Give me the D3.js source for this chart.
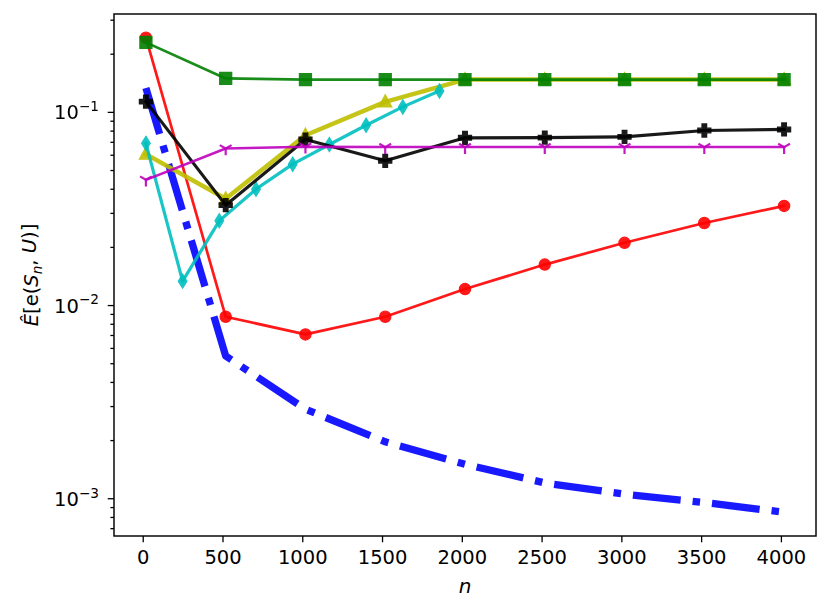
<!DOCTYPE html>
<html>
<head>
<meta charset="utf-8">
<script src="https://cdn.jsdelivr.net/npm/d3@7"></script>
<style>
  body { margin: 0; background: #fff; }
  text { font-family: "DejaVu Sans", sans-serif; }
</style>
</head>
<body>
<div id="chart"></div>
<script>
// sample sizes
const nGrid = [20, 520, 1020, 1520, 2020, 2520, 3020, 3520, 4020];
const nFine = [20, 250, 480, 710, 940, 1170, 1400, 1630, 1860];

// estimated errors
const blueVals = [0.133, 0.00545, 0.00289, 0.00196, 0.0015, 0.0012, 0.00105, 0.00095, 0.000846];
const redVals = [0.242, 0.0087, 0.00705, 0.0087, 0.0121, 0.0162, 0.021, 0.0266, 0.0326];
const yellowVals = [0.0604, 0.0355, 0.0757, 0.1126, 0.147, 0.147, 0.147, 0.147, 0.147];
const greenVals = [0.229, 0.149, 0.147, 0.147, 0.147, 0.147, 0.147, 0.147, 0.147];
const cyanVals = [0.0687, 0.0133, 0.0273, 0.0398, 0.0536, 0.0678, 0.0853, 0.1061, 0.1284];
const blackVals = [0.113, 0.0329, 0.0719, 0.0558, 0.0734, 0.0736, 0.0742, 0.0801, 0.0811];
const magentaVals = [0.0445, 0.0646, 0.066, 0.0657, 0.0657, 0.0657, 0.0657, 0.0657, 0.0657];

const xTicks = [0, 500, 1000, 1500, 2000, 2500, 3000, 3500, 4000];
const yMajor = [1e-3, 1e-2, 1e-1];
const yExp = ["\u22123", "\u22122", "\u22121"];

const series = [
  { x: nGrid, y: blueVals, color: "#0000ff", lw: 7.3, dash: "48,12,7.5,12", marker: null },
  { x: nGrid, y: redVals, color: "#ff0000", lw: 2.7, marker: "circle" },
  { x: nGrid, y: yellowVals, color: "#bfbf00", lw: 4.5, marker: "triangle" },
  { x: nGrid, y: greenVals, color: "#008000", lw: 2.7, marker: "square" },
  { x: nFine, y: cyanVals, color: "#00bfbf", lw: 3.2, marker: "diamond" },
  { x: nGrid, y: blackVals, color: "#000000", lw: 3.2, marker: "plus" },
  { x: nGrid, y: magentaVals, color: "#bf00bf", lw: 2.5, marker: "tri" }
];

const W = 830, H = 614;
const margin = { top: 14, right: 14, bottom: 78, left: 114 };
const width = W - margin.left - margin.right;
const height = H - margin.top - margin.bottom;
const fs = 19.5;

const svg = d3.select("#chart")
  .append("svg")
  .attr("width", W)
  .attr("height", H);

const g = svg.append("g")
  .attr("transform", `translate(${margin.left}, ${margin.top})`);

// matplotlib-like 5% margins
const allX = series.flatMap(s => s.x);
const allY = series.flatMap(s => s.y);
const xMin = d3.min(allX), xMax = d3.max(allX);
const xPad = (xMax - xMin) * 0.05;
const lyMin = Math.log10(d3.min(allY)), lyMax = Math.log10(d3.max(allY));
const lyPad = (lyMax - lyMin) * 0.05;

const xScale = d3.scaleLinear()
  .domain([xMin - xPad, xMax + xPad])
  .range([0, width]);

const yScale = d3.scaleLog()
  .domain([Math.pow(10, lyMin - lyPad), Math.pow(10, lyMax + lyPad)])
  .range([height, 0]);

g.append("clipPath").attr("id", "clip")
  .append("rect").attr("width", width).attr("height", height);

const plot = g.append("g").attr("clip-path", "url(#clip)");

const line = d3.line()
  .x(d => xScale(d[0]))
  .y(d => yScale(d[1]));

function markerPath(type) {
  if (type === "square") return "M-6,-6H6V6H-6Z";
  if (type === "triangle") return "M0,-7L6.5,5L-6.5,5Z";
  if (type === "diamond") return "M0,-7L4.3,0L0,7L-4.3,0Z";
  if (type === "plus") return "M-2.3,-6.5H2.3V-2.3H6.5V2.3H2.3V6.5H-2.3V2.3H-6.5V-2.3H-2.3Z";
  if (type === "tri") return "M0,0V6.8M0,0L-5.9,-3.4M0,0L5.9,-3.4";
  return null;
}

series.forEach(s => {
  const pts = s.x.map((x, i) => [x, s.y[i]]);
  const sg = plot.append("g").attr("opacity", 0.9);

  sg.append("path")
    .datum(pts)
    .attr("fill", "none")
    .attr("stroke", s.color)
    .attr("stroke-width", s.lw)
    .attr("stroke-linejoin", "round")
    .attr("stroke-linecap", s.dash ? "butt" : "square")
    .attr("stroke-dasharray", s.dash || null)
    .attr("d", line);

  if (!s.marker) return;
  const mg = plot.append("g").attr("opacity", 0.9);
  if (s.marker === "circle") {
    mg.selectAll("circle")
      .data(pts)
      .enter()
      .append("circle")
      .attr("cx", d => xScale(d[0]))
      .attr("cy", d => yScale(d[1]))
      .attr("r", 5.6)
      .attr("fill", s.color)
      .attr("stroke", s.color)
      .attr("stroke-width", 1.3);
  } else {
    const isTri = s.marker === "tri";
    mg.selectAll("path")
      .data(pts)
      .enter()
      .append("path")
      .attr("transform", d => `translate(${xScale(d[0])}, ${yScale(d[1])})`)
      .attr("d", markerPath(s.marker))
      .attr("fill", isTri ? "none" : s.color)
      .attr("stroke", s.color)
      .attr("stroke-width", isTri ? 2.2 : 1.3)
      .attr("stroke-linejoin", "miter");
  }
});

// axes
const xAxis = d3.axisBottom(xScale).tickValues(xTicks).tickSize(6.3).tickPadding(8).tickFormat(d3.format("d"));
const xg = g.append("g")
  .attr("transform", `translate(0, ${height})`)
  .call(xAxis);
xg.selectAll("text").attr("font-size", fs).attr("fill", "#000");

const minorTicks = yScale.ticks().filter(v => !yMajor.some(m => Math.abs(v / m - 1) < 1e-6));
g.append("g")
  .call(d3.axisLeft(yScale).tickValues(minorTicks).tickSize(3.6).tickFormat(""))
  .call(a => a.select(".domain").remove());

const yg = g.append("g")
  .call(d3.axisLeft(yScale).tickValues(yMajor).tickSize(6.3).tickFormat(""))
  .call(a => a.select(".domain").remove());

yg.selectAll(".tick").each(function (d, i) {
  const t = d3.select(this).append("text")
    .attr("x", -15)
    .attr("dy", "0.36em")
    .attr("text-anchor", "end")
    .attr("fill", "#000")
    .attr("font-size", fs)
    .attr("font-family", "DejaVu Sans");
  t.append("tspan").text("10");
  t.append("tspan").attr("font-size", fs * 0.7).attr("dy", "-0.6em").text(yExp[i]);
});

g.selectAll(".tick line").attr("stroke", "#000").attr("stroke-width", 1.3);
g.selectAll(".domain").remove();

// frame
g.append("rect")
  .attr("width", width)
  .attr("height", height)
  .attr("fill", "none")
  .attr("stroke", "#000")
  .attr("stroke-width", 1.45);

// axis labels
svg.append("text")
  .attr("x", margin.left + width / 2)
  .attr("y", 593)
  .attr("text-anchor", "middle")
  .attr("font-size", 20)
  .attr("font-style", "italic")
  .text("n");

const yl = svg.append("text")
  .attr("transform", `translate(38, ${margin.top + height / 2}) rotate(-90)`)
  .attr("text-anchor", "middle")
  .attr("font-size", fs);
yl.append("tspan").attr("font-style", "italic").text("\u00CA");
yl.append("tspan").text("[e(");
yl.append("tspan").attr("font-style", "italic").text("S");
yl.append("tspan").attr("font-style", "italic").attr("font-size", fs * 0.7).attr("dy", "0.3em").text("n");
yl.append("tspan").attr("dy", "-0.3em").text(", ");
yl.append("tspan").attr("font-style", "italic").text("U");
yl.append("tspan").text(")]");
</script>
</body>
</html>
